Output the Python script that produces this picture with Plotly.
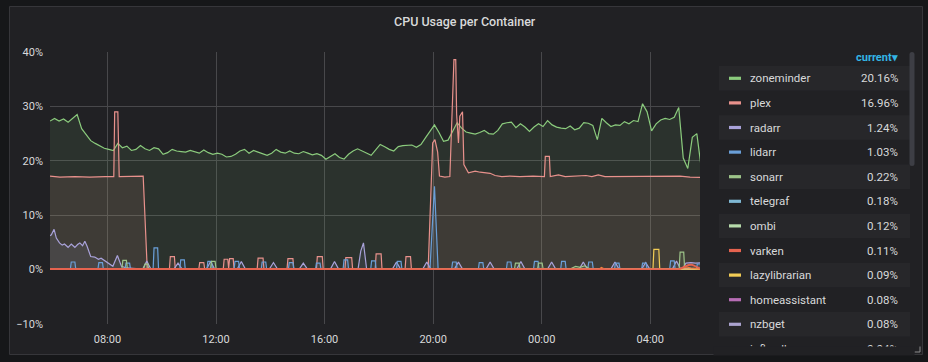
import pandas as pd
import plotly.graph_objects as go

# ---------------- data ----------------
DAY0 = "2019-06-01"
START = "2019-06-01 05:53"
END = "2019-06-02 05:50"

# zoneminder sampled every 10 minutes from 05:53
zoneminder_vals = [
    27.3, 27.8, 27.3, 27.7, 27.1, 27.8, 28.5, 25.9, 24.8, 23.7,
    23.2, 22.8, 22.3, 22.1, 21.9, 23.2, 22.4, 22.7, 21.9, 22.1,
    22.8, 22.2, 21.9, 22.4, 22.2, 21.2, 21.5, 22.1, 21.8, 21.7,
    21.6, 21.9, 21.6, 21.4, 22.0, 21.5, 21.2, 21.4, 21.2, 20.7,
    20.8, 21.2, 21.8, 22.1, 21.4, 21.9, 21.6, 21.3, 21.0, 21.4,
    22.1, 21.6, 21.4, 21.8, 21.4, 21.3, 21.7, 21.4, 21.1, 21.3,
    21.0, 20.3, 20.8, 21.3, 20.6, 20.3, 21.2, 21.8, 22.2, 21.8,
    21.3, 21.0, 22.0, 23.0, 22.6, 22.1, 21.8, 22.6, 22.8, 22.8,
    22.9, 22.5, 23.0, 24.2, 25.5, 26.6, 25.2, 23.6, 23.8, 25.5,
    27.0, 26.0, 25.3, 25.1, 24.9, 25.2, 25.6, 25.0, 24.9, 25.6,
    26.8, 27.0, 27.1, 26.1, 26.8, 26.2, 25.4, 26.2, 26.8, 26.3,
    27.4, 26.6, 26.2, 26.0, 25.9, 26.4, 25.7, 26.0, 27.0, 26.9,
    26.5, 23.9, 27.8, 27.0, 26.3, 26.6, 26.5, 27.2, 26.8, 27.4,
    27.2, 30.5, 29.0, 25.5, 26.8, 27.5, 27.8, 27.6, 28.0, 29.8,
    20.5, 18.6, 24.3, 25.0, 18.5,
]

plex = [
    ("05:53", 17.2), ("06:15", 17.0), ("06:48", 17.1), ("07:21", 17.0), ("07:55", 17.1),
    ("08:14", 17.1), ("08:16", 29.0), ("08:23", 29.0), ("08:26", 17.1), ("08:50", 17.2),
    ("09:19", 17.2), ("09:28", 0.1),
    ("10:17", 0.1), ("10:19", 2.4), ("10:28", 2.4), ("10:30", 0.1),
    ("11:22", 0.1), ("11:24", 1.3), ("11:33", 1.3), ("11:35", 0.1),
    ("12:16", 0.1), ("12:18", 1.9), ("12:26", 1.9), ("12:28", 0.3), ("12:30", 2.0), ("12:38", 2.0), ("12:40", 0.1),
    ("13:31", 0.1), ("13:33", 2.1), ("13:44", 2.1), ("13:46", 0.1),
    ("14:37", 0.1), ("14:39", 2.0), ("14:50", 2.0), ("14:52", 0.1),
    ("15:42", 0.1), ("15:44", 2.4), ("15:55", 2.4), ("15:57", 0.1),
    ("16:45", 0.1), ("16:47", 2.2), ("17:00", 2.2), ("17:02", 0.1),
    ("17:52", 0.1), ("17:54", 2.9), ("18:05", 2.9), ("18:07", 0.1),
    ("18:58", 0.1), ("19:00", 2.4), ("19:10", 2.4), ("19:12", 0.1),
    ("19:49", 0.1), ("19:59", 23.3), ("20:04", 23.9), ("20:10", 21.6), ("20:14", 17.2),
    ("20:26", 17.0), ("20:37", 17.1), ("20:41", 27.3), ("20:46", 38.6), ("20:50", 38.6),
    ("20:52", 28.5), ("20:56", 23.3), ("20:59", 28.2), ("21:05", 29.0), ("21:08", 19.3),
    ("21:18", 17.8), ("21:33", 18.1), ("21:44", 17.9), ("22:06", 17.7), ("22:17", 17.3),
    ("22:32", 17.1), ("22:50", 17.2), ("23:12", 17.1), ("23:41", 17.2), ("00:06", 17.1),
    ("00:08", 20.8), ("00:17", 20.8), ("00:19", 17.1), ("00:37", 17.4), ("00:52", 17.1),
    ("01:17", 17.2), ("01:38", 17.3), ("01:51", 17.1), ("02:05", 17.4), ("02:20", 17.1),
    ("02:53", 17.1), ("03:15", 17.2), ("03:37", 17.1), ("04:07", 17.2), ("04:33", 17.1),
    ("05:06", 17.2), ("05:28", 17.0), ("05:54", 16.96),
]

radarr = [
    ("05:53", 6.2), ("05:56", 6.4), ("06:02", 7.4), ("06:07", 5.8), ("06:14", 4.9),
    ("06:20", 4.5), ("06:25", 4.7), ("06:33", 4.1), ("06:40", 4.7), ("06:48", 4.1),
    ("06:54", 4.6), ("06:59", 4.9), ("07:05", 4.4), ("07:10", 5.2), ("07:15", 4.3),
    ("07:23", 2.4), ("07:32", 2.3), ("07:40", 1.9), ("07:46", 2.1), ("07:54", 1.6),
    ("08:01", 1.3), ("08:12", 0.6), ("08:22", 2.6), ("08:31", 0.6), ("08:42", 0.3),
    ("09:00", 0.2), ("09:18", 0.1), ("09:27", 1.6), ("09:36", 0.1),
    ("10:27", 0.1), ("10:36", 1.2), ("10:45", 0.1),
    ("11:39", 0.1), ("11:48", 1.5), ("11:57", 0.1),
    ("12:47", 0.1), ("12:56", 1.5), ("13:05", 0.1),
    ("13:58", 0.1), ("14:07", 1.3), ("14:16", 0.1),
    ("15:04", 0.1), ("15:13", 1.2), ("15:22", 0.1),
    ("16:13", 0.1), ("16:22", 1.5), ("16:31", 0.1),
    ("17:14", 0.1), ("17:20", 3.4), ("17:26", 4.9), ("17:33", 0.1),
    ("18:30", 0.1), ("18:39", 1.4), ("18:48", 0.1),
    ("19:37", 0.1), ("19:46", 1.4), ("19:55", 0.1),
    ("20:47", 0.1), ("20:56", 1.4), ("21:05", 0.1),
    ("21:57", 0.1), ("22:06", 1.4), ("22:15", 0.1),
    ("23:05", 0.1), ("23:14", 1.5), ("23:23", 0.1),
    ("00:13", 0.1), ("00:22", 1.4), ("00:31", 0.1),
    ("01:23", 0.1), ("01:32", 1.4), ("01:41", 0.1),
    ("02:33", 0.1), ("02:42", 1.4), ("02:51", 0.1),
    ("03:41", 0.1), ("03:50", 1.3), ("03:59", 0.1),
    ("04:49", 0.1), ("04:58", 1.6), ("05:07", 0.1),
    ("05:12", 0.3), ("05:19", 1.2), ("05:30", 1.3), ("05:40", 1.2), ("05:53", 1.24),
]

lidarr = [
    ("05:53", 0.1),
    ("06:38", 0.1), ("06:40", 1.4), ("06:48", 1.4), ("06:50", 0.1),
    ("07:39", 0.1), ("07:41", 1.3), ("07:49", 1.3), ("07:51", 0.1),
    ("08:39", 0.1), ("08:41", 1.2), ("08:49", 1.2), ("08:51", 0.1),
    ("09:41", 0.1), ("09:43", 4.0), ("09:51", 4.0), ("09:53", 0.1),
    ("10:40", 0.1), ("10:42", 1.8), ("10:50", 1.8), ("10:52", 0.1),
    ("11:40", 0.1), ("11:42", 1.5), ("11:50", 1.5), ("11:52", 0.1),
    ("12:40", 0.1), ("12:42", 1.5), ("12:50", 1.5), ("12:52", 0.1),
    ("13:40", 0.1), ("13:42", 1.4), ("13:50", 1.4), ("13:52", 0.1),
    ("14:40", 0.1), ("14:42", 1.3), ("14:50", 1.3), ("14:52", 0.1),
    ("15:40", 0.1), ("15:42", 1.2), ("15:50", 1.2), ("15:52", 0.1),
    ("16:41", 0.1), ("16:43", 1.8), ("16:51", 1.8), ("16:53", 0.1),
    ("17:42", 0.1), ("17:44", 1.6), ("17:52", 1.6), ("17:54", 0.1),
    ("18:39", 0.1), ("18:41", 1.5), ("18:49", 1.5), ("18:51", 0.1),
    ("19:53", 0.1), ("20:03", 15.3), ("20:11", 0.1),
    ("20:41", 0.1), ("20:43", 1.4), ("20:51", 1.4), ("20:53", 0.1),
    ("21:40", 0.1), ("21:42", 1.3), ("21:50", 1.3), ("21:52", 0.1),
    ("22:42", 0.1), ("22:44", 1.4), ("22:52", 1.4), ("22:54", 0.1),
    ("23:42", 0.1), ("23:44", 1.5), ("23:52", 1.5), ("23:54", 0.1),
    ("00:42", 0.1), ("00:44", 1.5), ("00:52", 1.5), ("00:54", 0.1),
    ("01:42", 0.1), ("01:44", 1.4), ("01:52", 1.4), ("01:54", 0.1),
    ("02:41", 0.1), ("02:43", 1.2), ("02:51", 1.2), ("02:53", 0.1),
    ("03:41", 0.1), ("03:43", 1.2), ("03:51", 1.2), ("03:53", 0.1),
    ("04:43", 0.1), ("04:45", 1.6), ("04:53", 1.6), ("04:55", 0.1),
    ("05:42", 0.1), ("05:44", 1.03), ("05:53", 1.03),
]

sonarr = [
    ("05:53", 0.2), ("08:32", 0.2), ("08:34", 1.7), ("08:42", 1.7), ("08:44", 0.2),
    ("09:20", 0.2), ("09:23", 1.0), ("09:29", 1.0), ("09:31", 0.2),
    ("11:48", 0.2), ("11:50", 1.5), ("11:58", 1.5), ("12:00", 0.2),
    ("23:00", 0.2), ("23:02", 1.2), ("23:10", 1.2), ("23:12", 0.2),
    ("23:51", 0.2), ("23:53", 1.2), ("00:01", 1.2), ("00:03", 0.2),
    ("01:05", 0.2), ("01:15", 0.6), ("01:25", 0.4), ("01:35", 0.7), ("01:45", 0.2),
    ("05:04", 0.2), ("05:06", 3.2), ("05:14", 3.2), ("05:16", 0.2), ("05:53", 0.22),
]

telegraf = [("05:53", 0.18), ("10:00", 0.2), ("14:00", 0.18), ("18:00", 0.2),
            ("22:00", 0.18), ("02:00", 0.2), ("05:53", 0.18)]
ombi = [("05:53", 0.12), ("11:00", 0.13), ("17:00", 0.12), ("23:00", 0.13),
        ("03:00", 0.12), ("05:53", 0.12)]
homeassistant = [("05:53", 0.08), ("12:00", 0.08), ("18:00", 0.09), ("00:00", 0.08), ("05:53", 0.08)]
nzbget = [("05:53", 0.08), ("12:00", 0.09), ("18:00", 0.08), ("00:00", 0.08), ("05:53", 0.08)]
lazylibrarian = [("05:53", 0.09), ("04:06", 0.09), ("04:08", 3.7), ("04:19", 3.7),
                 ("04:21", 0.09), ("05:53", 0.09)]
influxdb = [("05:53", 0.04), ("02:06", 0.04), ("02:12", 0.4), ("02:20", 0.04),
            ("05:00", 0.05), ("05:10", 0.3), ("05:20", 0.5), ("05:30", 0.3), ("05:53", 0.04)]
varken = [("05:53", 0.11), ("12:00", 0.1), ("18:00", 0.12), ("00:00", 0.1),
          ("05:05", 0.1), ("05:15", 0.5), ("05:25", 0.85), ("05:32", 0.9),
          ("05:40", 0.6), ("05:47", 0.2), ("05:53", 0.11)]

legend_names = ["zoneminder", "plex", "radarr", "lidarr", "sonarr", "telegraf", "ombi",
                "varken", "lazylibrarian", "homeassistant", "nzbget", "influxdb"]
legend_current = ["20.16%", "16.96%", "1.24%", "1.03%", "0.22%", "0.18%", "0.12%",
                  "0.11%", "0.09%", "0.08%", "0.08%", "0.04%"]
series_colors = {
    "zoneminder": "#8BCB7D", "plex": "#E8918C", "radarr": "#A9A2DA", "lidarr": "#6A9FD8",
    "sonarr": "#9DC489", "telegraf": "#7FB8D4", "ombi": "#B7DBAB", "varken": "#E5634F",
    "lazylibrarian": "#F2CC55", "homeassistant": "#B76DB5", "nzbget": "#ABA3CF",
    "influxdb": "#EF843C",
}

# ---------------- helpers ----------------
def to_dt(times):
    out, day, prev = [], 0, None
    for t in times:
        if prev is not None and t < prev:
            day += 1
        prev = t
        out.append(pd.Timestamp(f"{DAY0} {t}") + pd.Timedelta(days=day))
    return out

def rgba(hexc, a):
    h = hexc.lstrip("#")
    r, g, b = int(h[0:2], 16), int(h[2:4], 16), int(h[4:6], 16)
    return f"rgba({r},{g},{b},{a})"

W, H = 928, 362
L, R, T, B = 50, 700, 52, 324

def px(x):
    return (x - L) / (R - L)

def py(y):
    return (B - y) / (B - T)

FONT = "Roboto, 'Helvetica Neue', Arial, sans-serif"
TEXT = "#d8d9da"
PANEL = "#212124"

fig = go.Figure()

zm_times = pd.date_range(START, periods=len(zoneminder_vals), freq="10min")
series = [("zoneminder", list(zm_times), zoneminder_vals)]
for name, data in [("plex", plex), ("radarr", radarr), ("lidarr", lidarr), ("sonarr", sonarr),
                   ("telegraf", telegraf), ("ombi", ombi), ("homeassistant", homeassistant),
                   ("nzbget", nzbget), ("lazylibrarian", lazylibrarian),
                   ("influxdb", influxdb), ("varken", varken)]:
    ts, vs = zip(*data)
    series.append((name, to_dt(ts), list(vs)))

for name, xs, ys in series:
    c = series_colors[name]
    lw = 1.8 if name == "varken" else 1.2
    fig.add_trace(go.Scatter(
        x=xs, y=ys, mode="lines", name=name,
        line=dict(color=c, width=lw),
        fill="tozeroy", fillcolor=rgba(c, 0.1),
        showlegend=False, hoverinfo="skip",
    ))

shapes = []
# panel
shapes.append(dict(type="rect", xref="paper", yref="paper",
                   x0=px(9.5), x1=px(922.5), y0=py(354.5), y1=py(6.5),
                   fillcolor=PANEL, line=dict(color="#36363a", width=1), layer="below"))

annotations = []
annotations.append(dict(text="CPU Usage per Container", xref="paper", yref="paper",
                        x=px(465), y=py(22), xanchor="center", yanchor="middle",
                        showarrow=False, font=dict(family=FONT, size=12.5, color=TEXT, weight=500)))
annotations.append(dict(text="current▾", xref="paper", yref="paper",
                        x=px(900), y=py(57.5), xanchor="right", yanchor="middle",
                        showarrow=False, font=dict(family=FONT, size=11, color="#33b5e5", weight="bold")))

ROW0, PITCH = 78.3, 24.6
for i, (nm, val) in enumerate(zip(legend_names, legend_current)):
    yc = ROW0 + i * PITCH
    if i % 2 == 0 and yc < 340:
        shapes.append(dict(type="rect", xref="paper", yref="paper",
                           x0=px(719), x1=px(910), y0=py(yc + 12.2), y1=py(yc - 12.2),
                           fillcolor="#27272a", line=dict(width=0), layer="below"))
    shapes.append(dict(type="rect", xref="paper", yref="paper",
                       x0=px(729), x1=px(741), y0=py(yc + 1.6), y1=py(yc - 1.6),
                       fillcolor=series_colors[nm], line=dict(width=0), layer="above"))
    annotations.append(dict(text=nm, xref="paper", yref="paper", x=px(748), y=py(yc),
                            xanchor="left", yanchor="middle", showarrow=False,
                            font=dict(family=FONT, size=11.5, color=TEXT)))
    annotations.append(dict(text=val, xref="paper", yref="paper", x=px(900), y=py(yc),
                            xanchor="right", yanchor="middle", showarrow=False,
                            font=dict(family=FONT, size=11.5, color=TEXT)))

# cover clipping the last legend row
annotations.append(dict(text=" ", xref="paper", yref="paper", x=px(814), y=py(350.5),
                        xanchor="center", yanchor="middle", showarrow=False,
                        width=200, height=8, bgcolor=PANEL, borderpad=0,
                        font=dict(size=4)))

# scrollbar (rounded)
sx0, sx1, sy0, sy1, rr = 909.5, 914.5, 52, 166, 2.5
shapes.append(dict(type="path", xref="paper", yref="paper",
                   path=(f"M {px(sx0)} {py(sy0 + rr)} "
                         f"Q {px(sx0)} {py(sy0)} {px(sx0 + rr)} {py(sy0)} "
                         f"Q {px(sx1)} {py(sy0)} {px(sx1)} {py(sy0 + rr)} "
                         f"L {px(sx1)} {py(sy1 - rr)} "
                         f"Q {px(sx1)} {py(sy1)} {px(sx0 + rr)} {py(sy1)} "
                         f"Q {px(sx0)} {py(sy1)} {px(sx0)} {py(sy1 - rr)} Z"),
                   fillcolor="#3d3e45", line=dict(width=0), layer="above"))
# resize handle
shapes.append(dict(type="line", xref="paper", yref="paper",
                   x0=px(920), x1=px(920), y0=py(346.5), y1=py(352),
                   line=dict(color="#8e8e8e", width=1), layer="above"))
shapes.append(dict(type="line", xref="paper", yref="paper",
                   x0=px(914.5), x1=px(920), y0=py(352), y1=py(352),
                   line=dict(color="#8e8e8e", width=1), layer="above"))

fig.update_layout(
    width=W, height=H,
    margin=dict(l=L, r=W - R, t=T, b=H - B, pad=0),
    paper_bgcolor="#161719", plot_bgcolor="rgba(0,0,0,0)",
    font=dict(family=FONT, color=TEXT, size=11),
    shapes=shapes, annotations=annotations,
    showlegend=False,
)
fig.update_xaxes(type="date", range=[START, END], tick0="2019-06-01 00:00",
                 dtick=4 * 3600 * 1000, tickformat="%H:%M",
                 showgrid=True, gridcolor="#48484b", gridwidth=1,
                 zeroline=False, showline=False, ticks="",
                 tickfont=dict(family=FONT, size=11, color=TEXT),
                 ticklabelstandoff=7)
fig.update_yaxes(range=[-10, 40], dtick=10, ticksuffix="%",
                 showgrid=True, gridcolor="#48484b", gridwidth=1,
                 zeroline=False, showline=False, ticks="",
                 tickfont=dict(family=FONT, size=11, color=TEXT),
                 ticklabelstandoff=6)

fig.write_html("out.html")
